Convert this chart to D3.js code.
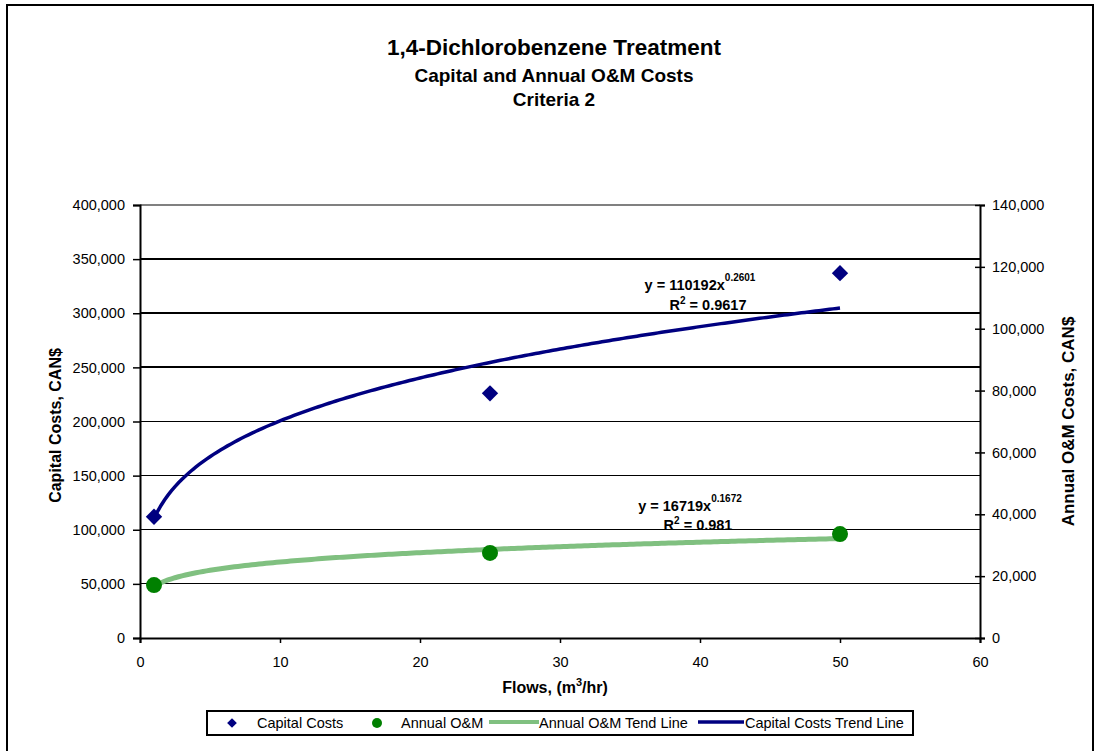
<!DOCTYPE html>
<html>
<head>
<meta charset="utf-8">
<script src="https://cdn.jsdelivr.net/npm/d3@7"></script>
<style>
  html, body { margin: 0; padding: 0; background: #fff; }
  svg { display: block; font-family: Arial, "Liberation Sans", sans-serif; }
</style>
</head>
<body>
<svg id="chart" width="1097" height="751"></svg>
<script>
// Flow rates (m3/hr) and the costs measured at each
const flows = [1, 25, 50];
const capitalCosts = [112000, 226000, 337000];
const annualOM = [17100, 27500, 33600];

// Power-law trend lines: y = a * x^b
const capitalTrend = { a: 110192, b: 0.2601, r2: "0.9617" };
const omTrend = { a: 16719, b: 0.1672, r2: "0.981" };

const xTicks = [0, 10, 20, 30, 40, 50, 60];
const leftTicks = [0, 50000, 100000, 150000, 200000, 250000, 300000, 350000, 400000];
const rightTicks = [0, 20000, 40000, 60000, 80000, 100000, 120000, 140000];
const heavyGrid = [250000, 300000, 350000];

const NAVY = "#000080", GREEN = "#008000", LIGHTGREEN = "#80c080";

const svg = d3.select("#chart");
const plot = { left: 140, right: 980, top: 205, bottom: 638 };

const x = d3.scaleLinear().domain([0, 60]).range([plot.left, plot.right]);
const yL = d3.scaleLinear().domain([0, 400000]).range([plot.bottom, plot.top]);
const yR = d3.scaleLinear().domain([0, 140000]).range([plot.bottom, plot.top]);
const fmt = d3.format(",");

// Outer frame
svg.append("rect").attr("x", 7).attr("y", 5).attr("width", 1086).attr("height", 760)
  .attr("fill", "none").attr("stroke", "#000").attr("stroke-width", 2);

// Titles
const titles = [
  { t: "1,4-Dichlorobenzene Treatment", y: 55, s: 22.5 },
  { t: "Capital and Annual O&M Costs", y: 82, s: 19 },
  { t: "Criteria 2", y: 106, s: 19 }
];
svg.selectAll("text.title").data(titles).join("text").attr("class", "title")
  .attr("x", 554).attr("y", d => d.y).attr("text-anchor", "middle")
  .attr("font-weight", "bold").attr("font-size", d => d.s).text(d => d.t);

// Gridlines
svg.append("g").selectAll("line").data(leftTicks.filter(v => v > 0)).join("line")
  .attr("x1", plot.left).attr("x2", plot.right)
  .attr("y1", d => yL(d)).attr("y2", d => yL(d))
  .attr("stroke", d => d === 400000 ? "#808080" : "#000")
  .attr("stroke-width", d => heavyGrid.includes(d) || d === 400000 ? 2 : 1)
  .attr("shape-rendering", "crispEdges");

// Axes
const axisStyle = g => {
  g.select(".domain").attr("stroke", "#000").attr("stroke-width", 2);
  g.selectAll(".tick line").attr("stroke", "#000").attr("stroke-width", 1.5);
  g.selectAll(".tick text").attr("font-size", 14.5).attr("fill", "#000")
    .attr("font-family", "Arial, 'Liberation Sans', sans-serif");
};
svg.append("g").attr("transform", `translate(0,${plot.bottom})`)
  .call(d3.axisBottom(x).tickValues(xTicks).tickSizeOuter(0).tickSize(5).tickPadding(14))
  .call(axisStyle);
svg.append("g").attr("transform", `translate(${plot.left},0)`)
  .call(d3.axisLeft(yL).tickValues(leftTicks).tickFormat(fmt).tickSizeOuter(0).tickSize(7).tickPadding(8))
  .call(axisStyle);
const rAxis = svg.append("g").attr("transform", `translate(${plot.right},0)`)
  .call(d3.axisRight(yR).tickValues(rightTicks).tickFormat(fmt).tickSizeOuter(0).tickSize(5).tickPadding(7))
  .call(axisStyle);
rAxis.selectAll(".tick line").attr("x1", -5);

// Axis titles
svg.append("text").attr("transform", `translate(61,${(plot.top + plot.bottom) / 2 + 4}) rotate(-90)`)
  .attr("text-anchor", "middle").attr("font-weight", "bold").attr("font-size", 16)
  .text("Capital Costs, CAN$");
svg.append("text").attr("transform", `translate(1074,${(plot.top + plot.bottom) / 2}) rotate(-90)`)
  .attr("text-anchor", "middle").attr("font-weight", "bold").attr("font-size", 17)
  .text("Annual O&M Costs, CAN$");
const xt = svg.append("text").attr("x", 555).attr("y", 693).attr("text-anchor", "middle")
  .attr("font-weight", "bold").attr("font-size", 16);
xt.append("tspan").text("Flows, (m");
xt.append("tspan").attr("font-size", 11).attr("dy", -7).text("3");
xt.append("tspan").attr("dy", 7).text("/hr)");

// Trend lines
const trendXs = d3.range(1, 50.001, 0.25);
const capLine = d3.line().x(d => x(d)).y(d => yL(capitalTrend.a * Math.pow(d, capitalTrend.b)));
const omLine = d3.line().x(d => x(d)).y(d => yR(omTrend.a * Math.pow(d, omTrend.b)));
svg.append("path").datum(trendXs).attr("d", omLine).attr("fill", "none")
  .attr("stroke", LIGHTGREEN).attr("stroke-width", 5);
svg.append("path").datum(trendXs).attr("d", capLine).attr("fill", "none")
  .attr("stroke", NAVY).attr("stroke-width", 3.5);

// Markers
const capData = flows.map((f, i) => ({ f, v: capitalCosts[i] }));
const omData = flows.map((f, i) => ({ f, v: annualOM[i] }));
svg.append("g").selectAll("path").data(capData).join("path")
  .attr("transform", d => `translate(${x(d.f)},${yL(d.v)})`)
  .attr("d", d3.symbol(d3.symbolDiamond2, 170)).attr("fill", NAVY);
svg.append("g").selectAll("circle").data(omData).join("circle")
  .attr("cx", d => x(d.f)).attr("cy", d => yR(d.v)).attr("r", 8).attr("fill", GREEN);

// Trend equations
function equation(a, b, r2, cx, y1, y2) {
  const t = svg.append("text").attr("x", cx).attr("y", y1).attr("font-weight", "bold")
    .attr("font-size", 14.5).attr("text-anchor", "middle");
  t.append("tspan").text(`y = ${a}x`);
  t.append("tspan").attr("font-size", 10).attr("dy", -9).text(b);
  const r = svg.append("text").attr("x", cx + 8).attr("y", y2).attr("font-weight", "bold")
    .attr("font-size", 14.5).attr("text-anchor", "middle");
  r.append("tspan").text("R");
  r.append("tspan").attr("font-size", 10).attr("dy", -6).text("2");
  r.append("tspan").attr("dy", 6).text(` = ${r2}`);
}
equation(capitalTrend.a, capitalTrend.b, capitalTrend.r2, 700, 290, 310);
equation(omTrend.a, omTrend.b, omTrend.r2, 690, 511, 530);

// Legend
const lg = svg.append("g");
lg.append("rect").attr("x", 207).attr("y", 711).attr("width", 706).attr("height", 24)
  .attr("fill", "#fff").attr("stroke", "#000").attr("stroke-width", 2);
const ly = 723;
lg.append("path").attr("transform", `translate(232,${ly})`)
  .attr("d", d3.symbol(d3.symbolDiamond2, 60)).attr("fill", NAVY);
lg.append("circle").attr("cx", 377).attr("cy", ly).attr("r", 5).attr("fill", GREEN);
lg.append("line").attr("x1", 489).attr("x2", 539).attr("y1", ly - 1).attr("y2", ly - 1)
  .attr("stroke", LIGHTGREEN).attr("stroke-width", 4);
lg.append("line").attr("x1", 698).attr("x2", 744).attr("y1", ly - 1).attr("y2", ly - 1)
  .attr("stroke", NAVY).attr("stroke-width", 3.5);
const legendLabels = [
  { t: "Capital Costs", x: 257 },
  { t: "Annual O&M", x: 401 },
  { t: "Annual O&M Tend Line", x: 539 },
  { t: "Capital Costs Trend Line", x: 745 }
];
lg.selectAll("text").data(legendLabels).join("text")
  .attr("x", d => d.x).attr("y", ly + 5).attr("font-size", 14.5).text(d => d.t);
</script>
</body>
</html>
